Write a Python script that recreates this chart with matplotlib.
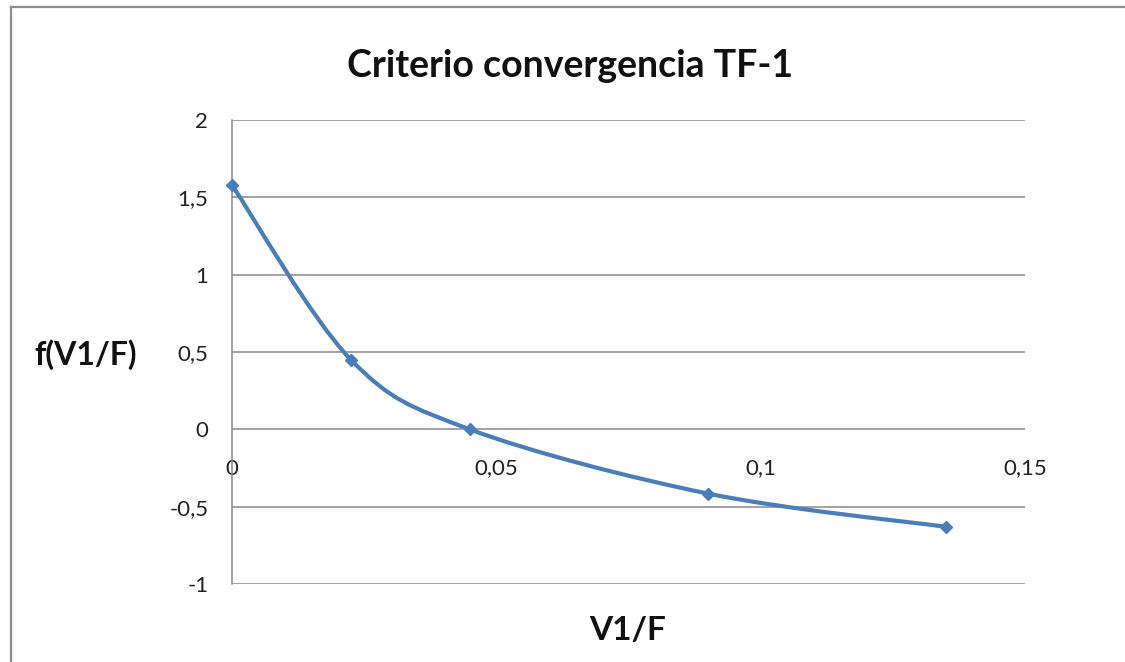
import matplotlib.pyplot as plt
from matplotlib.lines import Line2D
from matplotlib.patches import PathPatch
from matplotlib.path import Path
from matplotlib.ticker import FuncFormatter

# V1/F values and criterion f(V1/F)
v1_f = [0.0, 0.0225, 0.045, 0.09, 0.135]
f_v1_f = [1.58, 0.45, 0.0, -0.415, -0.63]

x_ticks = [0, 0.05, 0.1, 0.15]
y_ticks = [-1, -0.5, 0, 0.5, 1, 1.5, 2]

LINE_COLOR = "#4A7EBB"
GRID_COLOR = "#878787"

plt.rcParams["font.family"] = ["Lato", "DejaVu Sans"]


def smooth_path(xs, ys):
    """Bezier segments through every point (Catmull-Rom style, like a smoothed line)."""
    pts = list(zip(xs, ys))
    n = len(pts)
    verts = [pts[0]]
    codes = [Path.MOVETO]
    for i in range(n - 1):
        p0 = pts[i - 1] if i > 0 else pts[i]
        p1 = pts[i]
        p2 = pts[i + 1]
        p3 = pts[i + 2] if i + 2 < n else pts[i + 1]
        c1 = (p1[0] + (p2[0] - p0[0]) / 6, p1[1] + (p2[1] - p0[1]) / 6)
        c2 = (p2[0] - (p3[0] - p1[0]) / 6, p2[1] - (p3[1] - p1[1]) / 6)
        verts += [c1, c2, p2]
        codes += [Path.CURVE4] * 3
    return Path(verts, codes)


def comma_fmt(v, _pos):
    return f"{v:g}".replace(".", ",")


fig = plt.figure(figsize=(11.25, 6.62), dpi=100)
ax = fig.add_axes([0.2062, 0.1178, 0.7049, 0.7009])

ax.set_xlim(0, 0.15)
ax.set_ylim(-1, 2)
ax.set_xticks(x_ticks)
ax.set_yticks(y_ticks)
ax.xaxis.set_major_formatter(FuncFormatter(comma_fmt))
ax.yaxis.set_major_formatter(FuncFormatter(comma_fmt))

for y in y_ticks:
    ax.axhline(y, color=GRID_COLOR, linewidth=1.1, zorder=1)

for side in ("top", "right"):
    ax.spines[side].set_visible(False)
ax.spines["bottom"].set_position(("data", 0))
ax.spines["bottom"].set_visible(False)
ax.spines["left"].set_color(GRID_COLOR)
ax.spines["left"].set_linewidth(1.1)

ax.tick_params(axis="x", length=0, pad=21, labelsize=16, labelcolor="#222222")
ax.tick_params(axis="y", length=0, pad=17, labelsize=16, labelcolor="#222222")

curve = PathPatch(smooth_path(v1_f, f_v1_f), facecolor="none", edgecolor=LINE_COLOR,
                  linewidth=3.0, capstyle="round", zorder=3)
ax.add_patch(curve)
ax.plot(v1_f, f_v1_f, linestyle="none", marker="D", markersize=6,
        color=LINE_COLOR, zorder=4, clip_on=False)

fig.text(570 / 1125, 1 - 66 / 662, "Criterio convergencia TF-1", ha="center", va="center",
         fontsize=27, fontweight="bold", color="#111111")
fig.text(86 / 1125, 1 - 355 / 662, "f(V1/F)", ha="center", va="center",
         fontsize=23, fontweight="bold", color="#111111")
fig.text(628 / 1125, 1 - 630 / 662, "V1/F", ha="center", va="center",
         fontsize=24, fontweight="bold", color="#111111")

# outer chart frame (left and top edges)
fig.add_artist(Line2D([11 / 1125, 11 / 1125], [0, 1 - 7 / 662], color="#8C8C8C",
                      linewidth=1.6, transform=fig.transFigure))
fig.add_artist(Line2D([11 / 1125, 1], [1 - 7 / 662, 1 - 7 / 662], color="#8C8C8C",
                      linewidth=1.6, transform=fig.transFigure))

fig.savefig("out.png", dpi=100, facecolor="white")
